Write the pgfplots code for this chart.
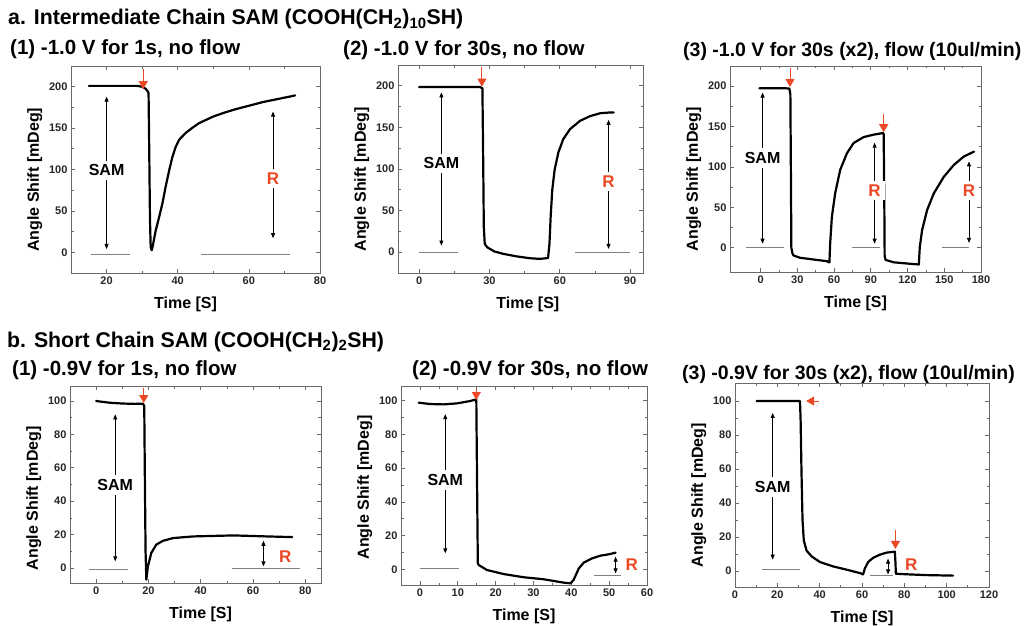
\documentclass[border=0pt]{standalone}
\usepackage{fontspec}
\setmainfont{Liberation Sans}
\usepackage{pgfplots}
\pgfplotsset{compat=1.18}
\usetikzlibrary{arrows.meta}
\definecolor{redarrow}{RGB}{235,72,38}
\definecolor{frame}{RGB}{105,105,105}
\pgfplotsset{
  sam/.style={
    scale only axis, anchor=south west, clip=false,
    axis line style={draw=frame, line width=0.9pt},
    tick align=inside,
    tick style={frame, line width=0.7pt},
    major tick length=4pt, minor tick length=2.5pt,
    minor x tick num=1, minor y tick num=1,
    ticklabel style={font=\fontsize{11}{12}\selectfont\bfseries, text=black!85},
    /pgf/number format/assume math mode=true,
    scaled ticks=false,
    label style={font=\fontsize{16}{18}\selectfont\bfseries},
    xlabel={Time [S]}, ylabel={Angle Shift [mDeg]},
  },
  curve/.style={black, line width=2.2pt, line join=round, line cap=round, mark=none},
}
\tikzset{
  base/.style={gray, line width=0.9pt},
  dar/.style={{Triangle[length=5pt,width=4pt]}-{Triangle[length=5pt,width=4pt]}, line width=0.7pt, black},
  rar/.style={-{Triangle[length=8pt,width=9pt]}, redarrow, line width=1pt},
  samlab/.style={fill=white, inner sep=4pt, font=\fontsize{16}{18}\selectfont\bfseries},
  rlab/.style={fill=white, inner sep=4pt, text=redarrow, font=\fontsize{17}{19}\selectfont\bfseries},
  ttl/.style={anchor=base west, inner sep=0pt, font=\fontsize{20.5}{24}\selectfont\bfseries},
  ttlw/.style={anchor=base west, inner sep=0pt, font=\fontsize{19.5}{24}\selectfont\bfseries},
  ttlm/.style={anchor=base west, inner sep=0pt, font=\fontsize{21.3}{25}\selectfont\bfseries},
}
\begin{document}
\begin{tikzpicture}
% ---------- titles ----------
\node[ttlm] at (8pt,600pt) {a. Intermediate Chain SAM (COOH(CH\textsubscript{2})\textsubscript{10}SH)};
\node[ttl] at (10pt,570pt) {(1) -1.0 V for 1s, no flow};
\node[ttl] at (343pt,569pt) {(2) -1.0 V for 30s, no flow};
\node[ttlw] at (683pt,568pt) {(3) -1.0 V for 30s (x2), flow (10ul/min)};
\node[ttlm] at (7pt,278pt) {b. Short Chain SAM (COOH(CH\textsubscript{2})\textsubscript{2}SH)};
\node[ttl] at (12pt,250pt) {(1) -0.9V for 1s, no flow};
\node[ttl] at (412pt,250pt) {(2) -0.9V for 30s, no flow};
\node[ttlw] at (682pt,246pt) {(3) -0.9V for 30s (x2), flow (10ul/min)};

% ---------- a1 ----------
\begin{axis}[sam, at={(71pt,352pt)}, width=249pt, height=207pt,
  xmin=10, xmax=80, ymin=-25, ymax=225,
  xtick={20,40,60,80}, ytick={0,50,100,150,200},
  xlabel style={at={(ticklabel cs:0.46)}, yshift=-6pt}, ylabel style={at={(ticklabel cs:0.45)}}]
\addplot[curve] table {
15 201
20 201
25 201
28.5 201
30 200
31 197.5
31.8 193
32.0 120
32.2 40
32.4 6
32.7 2.5
33.0 8
33.8 26
34.8 43
35.7 59
36.6 79
37.6 99
38.5 115
39.4 127
40.4 136
42.2 144
44 150
46 156
48 160
50 164
53 168.5
56 172.5
60 177
64 181.5
68 185
72 188.5
73 189.5
};
\draw[base] (axis cs:15.6,-3) -- (axis cs:26.6,-3);
\draw[base] (axis cs:46.6,-3) -- (axis cs:71.7,-3);
\draw[dar] (axis cs:20,188) -- (axis cs:20,4);
\node[samlab] at (axis cs:20,99) {SAM};
\draw[dar] (axis cs:66.8,170) -- (axis cs:66.8,17);
\node[rlab] at (axis cs:66.8,89) {R};
\draw[rar] (axis cs:30.3,221) -- (axis cs:30.3,197);
\end{axis}

% ---------- a2 ----------
\begin{axis}[sam, at={(398pt,352pt)}, width=245pt, height=208pt,
  xmin=-9, xmax=95.5, ymin=-25, ymax=225,
  xtick={0,30,60,90}, ytick={0,50,100,150,200},
  xlabel style={at={(ticklabel cs:0.53)}, yshift=-6pt}, ylabel style={at={(ticklabel cs:0.45)}}]
\addplot[curve] table {
0 198.5
10 198.5
20 198.5
26 198.5
27.0 197
27.3 120
27.6 30
28.0 10
29 6
30.2 4
32 1
35.9 -2
41.6 -5
47.3 -7.3
51.6 -8
55 -7
55.6 10
56.1 42
56.8 75
57.8 99
59.4 120
61.5 136
64.4 148
68.7 158
72.9 163.5
77.2 167
81.5 168
83 168
};
\draw[base] (axis cs:0,0) -- (axis cs:16.7,0);
\draw[base] (axis cs:66.5,0) -- (axis cs:90,0);
\draw[dar] (axis cs:9.5,192) -- (axis cs:9.5,8);
\node[samlab] at (axis cs:9.5,107) {SAM};
\draw[dar] (axis cs:80.8,159) -- (axis cs:80.8,4);
\node[rlab] at (axis cs:80.8,85) {R};
\draw[rar] (axis cs:26.8,222) -- (axis cs:26.8,199);
\end{axis}

% ---------- a3 ----------
\begin{axis}[sam, at={(730pt,353pt)}, width=251pt, height=206pt,
  xmin=-25, xmax=180, ymin=-30, ymax=225,
  xtick={0,30,60,90,120,150,180}, ytick={0,50,100,150,200},
  xlabel style={at={(ticklabel cs:0.5)}, yshift=-6pt}, ylabel style={at={(ticklabel cs:0.45)}}]
\addplot[curve] table {
-1 197.5
10 197.5
20 197.5
23.5 197
24.3 190
24.7 100
25.1 0
26 -7
26.8 -9.5
32.2 -12.4
43.1 -14.5
54 -16.6
56.2 -18.2
56.8 5
58.2 38.5
60.9 67.5
65 96.5
70.5 117
75.9 129.6
84.1 137
92.3 140
99.9 142
100.5 141
101 60
101.3 -10
102 -15
108.7 -18
119.6 -19.5
129.2 -20.7
130 1
131.9 22
136 46.8
141.5 67.5
149.7 88
157.9 102.7
166 113
174.3 119
};
\draw[base] (axis cs:-12,0) -- (axis cs:19,0);
\draw[base] (axis cs:74.6,0) -- (axis cs:97.8,0);
\draw[base] (axis cs:147.8,0) -- (axis cs:170.2,0);
\draw[dar] (axis cs:1.6,192) -- (axis cs:1.6,5);
\node[samlab] at (axis cs:1.6,111) {SAM};
\draw[dar] (axis cs:93.1,130) -- (axis cs:93.1,5);
\node[rlab] at (axis cs:93.1,71) {R};
\draw[dar] (axis cs:170.2,107) -- (axis cs:170.2,6);
\node[rlab] at (axis cs:170.2,71) {R};
\draw[rar] (axis cs:24,222) -- (axis cs:24,199);
\draw[rar] (axis cs:100.5,165) -- (axis cs:100.5,143);
\end{axis}

% ---------- b1 ----------
\begin{axis}[sam, at={(70pt,42pt)}, width=251pt, height=197pt,
  xmin=-10, xmax=86, ymin=-9, ymax=109,
  xtick={0,20,40,60,80}, ytick={0,20,40,60,80,100},
  xlabel style={at={(ticklabel cs:0.52)}, yshift=-6pt}, ylabel style={at={(ticklabel cs:0.43)}}]
\addplot[curve] table {
0 100
5 99
10 98.5
15 98.3
17.9 98.4
18.4 97
18.6 60
18.9 10
19.2 -7
19.8 1
21.1 9
23 14
25.6 16.3
29.4 17.9
37.1 18.9
52.5 19.5
65.3 18.9
75 18.5
};
\draw[base] (axis cs:-2.8,-0.6) -- (axis cs:12.2,-0.6);
\draw[base] (axis cs:51.9,0) -- (axis cs:78.1,0);
\draw[dar] (axis cs:7.3,92) -- (axis cs:7.3,4);
\node[samlab] at (axis cs:7.3,49.7) {SAM};
\draw[dar] (axis cs:64,16.3) -- (axis cs:64,1);
\node[text=redarrow, font=\fontsize{17}{19}\selectfont\bfseries] at (axis cs:72.3,6.6) {R};
\draw[rar] (axis cs:18.2,108) -- (axis cs:18.2,98.8);
\end{axis}

% ---------- b2 ----------
\begin{axis}[sam, at={(401pt,40pt)}, width=246pt, height=199pt,
  xmin=-5, xmax=60, ymin=-9.3, ymax=108.7,
  xtick={0,10,20,30,40,50,60}, ytick={0,20,40,60,80,100},
  xlabel style={at={(ticklabel cs:0.5)}, yshift=-6pt}, ylabel style={at={(ticklabel cs:0.49)}}]
\addplot[curve] table {
-0.3 98.8
2.75 98
6.3 97.8
9.8 98.4
13.3 99.8
14.9 100.8
15.1 50
15.3 3.6
15.5 2.6
17.7 -0.4
22.1 -2.8
27.4 -4.7
32.7 -5.9
38 -7.9
39.8 -8.3
40.6 -6.3
42 0.6
43.3 4
45.5 6.5
47.7 8.1
49.9 8.9
51.7 9.9
};
\draw[base] (axis cs:-0.1,0.6) -- (axis cs:10.2,0.6);
\draw[base] (axis cs:45.9,-3.4) -- (axis cs:53,-3.4);
\draw[dar] (axis cs:6.7,92) -- (axis cs:6.7,9.5);
\node[samlab] at (axis cs:6.7,53) {SAM};
\draw[dar] (axis cs:51.7,7.5) -- (axis cs:51.7,-2.4);
\node[text=redarrow, font=\fontsize{17}{19}\selectfont\bfseries] at (axis cs:56,2.6) {R};
\draw[rar] (axis cs:14.9,107) -- (axis cs:14.9,100.4);
\end{axis}

% ---------- b3 ----------
\begin{axis}[sam, at={(735pt,38pt)}, width=254pt, height=204pt,
  xmin=0, xmax=120, ymin=-9.4, ymax=110.6,
  xtick={0,20,40,60,80,100,120}, ytick={0,20,40,60,80,100},
  xlabel style={at={(ticklabel cs:0.5)}, yshift=-6pt}, ylabel style={at={(ticklabel cs:0.45)}}]
\addplot[curve] table {
10.2 100
20 100
30.7 100
31 88.6
31.4 59
31.9 29.8
32.5 18
33.8 12
36.2 8.6
40.1 5.3
46.4 2.7
52.7 0.8
59 -1.2
60.5 -2
61.3 1.4
62.9 5.3
65.3 7.8
68.4 9.6
71.5 10.8
75.5 11.4
75.8 5
76 -1.6
82.5 -2
90.4 -2.4
103 -2.7
};
\draw[base] (axis cs:12.6,0.8) -- (axis cs:30.7,0.8);
\draw[base] (axis cs:63.7,-2.5) -- (axis cs:74.7,-2.5);
\draw[dar] (axis cs:17.8,93) -- (axis cs:17.8,6.7);
\node[samlab] at (axis cs:17.8,49.4) {SAM};
\draw[dar] (axis cs:72.3,7.3) -- (axis cs:72.3,-2);
\node[text=redarrow, font=\fontsize{17}{19}\selectfont\bfseries] at (axis cs:83.3,3.9) {R};
\draw[rar] (axis cs:39.8,100) -- (axis cs:33.6,100);
\draw[rar] (axis cs:75.8,24) -- (axis cs:75.8,13);
\end{axis}

\pgfresetboundingbox
\path[use as bounding box] (0,0) rectangle (1024pt,625pt);
\end{tikzpicture}
\end{document}
